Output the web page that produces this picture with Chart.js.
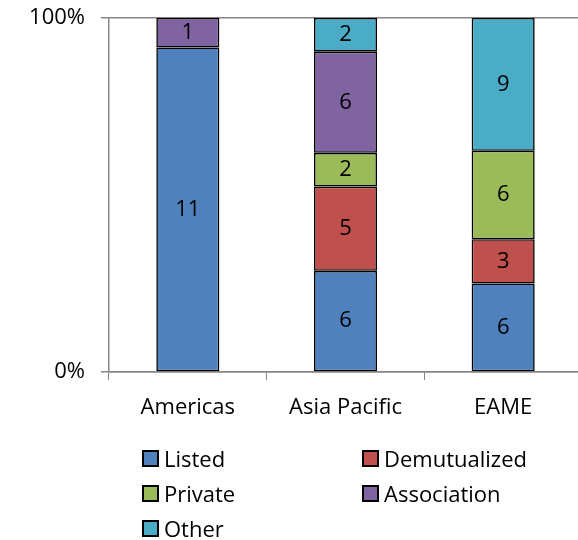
<!DOCTYPE html>
<html>
<head>
<meta charset="utf-8">
<script src="https://cdn.jsdelivr.net/npm/chart.js@4.4.1/dist/chart.umd.min.js"></script>
<style>
    html, body { margin: 0; padding: 0; overflow: hidden; background: #fff; }
    #wrap { position: relative; width: 582px; height: 540px; }
    #legend { position: absolute; left: 142px; top: 443px; width: 440px;
              font-family: "Open Sans", sans-serif; font-size: 22px; color: #000; }
    .item { position: absolute; display: flex; align-items: center; white-space: nowrap; }
    .box { width: 13px; height: 13px; border: 2px solid #000; margin-right: 5px; }
</style>
</head>
<body>
<div id="wrap">
    <canvas id="chart" width="582" height="540"></canvas>
    <div id="legend"></div>
</div>
<script>
const regions = ['Americas', 'Asia Pacific', 'EAME'];
const seriesNames = ['Listed', 'Demutualized', 'Private', 'Association', 'Other'];
const listed = [11, 6, 6];
const demutualized = [0, 5, 3];
const privateCounts = [0, 2, 6];
const association = [1, 6, 0];
const other = [0, 2, 9];
const yTicks = [0, 100];
const colors = ['#4F81BD', '#C0504D', '#9BBB59', '#8064A2', '#4BACC6'];

const counts = [listed, demutualized, privateCounts, association, other];
const totals = regions.map((r, i) => counts.reduce((s, arr) => s + arr[i], 0));

const datasets = counts.map((arr, k) => ({
    label: seriesNames[k],
    data: arr.map((v, i) => v / totals[i] * 100),
    counts: arr,
    backgroundColor: colors[k],
    borderColor: '#000',
    borderWidth: 1.6,
    borderSkipped: false,
    barPercentage: 0.4,
    categoryPercentage: 1
}));

// draw the count in the middle of each segment
const segmentLabels = {
    id: 'segmentLabels',
    afterDatasetsDraw(chart) {
        const ctx = chart.ctx;
        ctx.save();
        ctx.font = '22px "Open Sans", sans-serif';
        ctx.fillStyle = '#000';
        ctx.textAlign = 'center';
        ctx.textBaseline = 'middle';
        chart.data.datasets.forEach((ds, k) => {
            chart.getDatasetMeta(k).data.forEach((bar, i) => {
                const n = ds.counts[i];
                if (!n) return;
                ctx.fillText(String(n), bar.x, (bar.y + bar.base) / 2);
            });
        });
        ctx.restore();
    }
};

const ctx = document.getElementById('chart').getContext('2d');
new Chart(ctx, {
    type: 'bar',
    data: { labels: regions, datasets: datasets },
    options: {
        responsive: false,
        animation: false,
        layout: { padding: { top: 18, left: 0, right: 0, bottom: 118 } },
        plugins: {
            legend: { display: false },
            tooltip: { enabled: false }
        },
        scales: {
            x: {
                stacked: true,
                afterFit: (scale) => {
                    scale.height = 50;
                    scale.paddingLeft = 0;
                    scale.paddingRight = 0;
                },
                grid: { offset: true, drawOnChartArea: false, color: '#868686', tickLength: 8 },
                border: { color: '#868686', width: 1.5 },
                ticks: { color: '#000', padding: 15, font: { family: '"Open Sans", sans-serif', size: 22 } }
            },
            y: {
                stacked: true,
                min: 0,
                max: 100,
                afterFit: (scale) => {
                    scale.width = 109;
                    scale.paddingTop = 0;
                    scale.paddingBottom = 0;
                },
                afterBuildTicks: (scale) => { scale.ticks = yTicks.map(v => ({ value: v })); },
                grid: { color: '#868686', lineWidth: 1.5, tickLength: 8 },
                border: { color: '#868686', width: 1.5 },
                ticks: {
                    color: '#000',
                    padding: 16,
                    font: { family: '"Open Sans", sans-serif', size: 22 },
                    callback: (v) => v + '%'
                }
            }
        }
    },
    plugins: [segmentLabels]
});

// two-column legend like the original
const legendPos = [[0, 0], [220, 0], [0, 35], [220, 35], [0, 70]];
const legend = document.getElementById('legend');
seriesNames.forEach((name, k) => {
    const item = document.createElement('div');
    item.className = 'item';
    item.style.left = legendPos[k][0] + 'px';
    item.style.top = legendPos[k][1] + 'px';
    item.innerHTML = '<span class="box" style="background:' + colors[k] + '"></span>' + name;
    legend.appendChild(item);
});
</script>
</body>
</html>
